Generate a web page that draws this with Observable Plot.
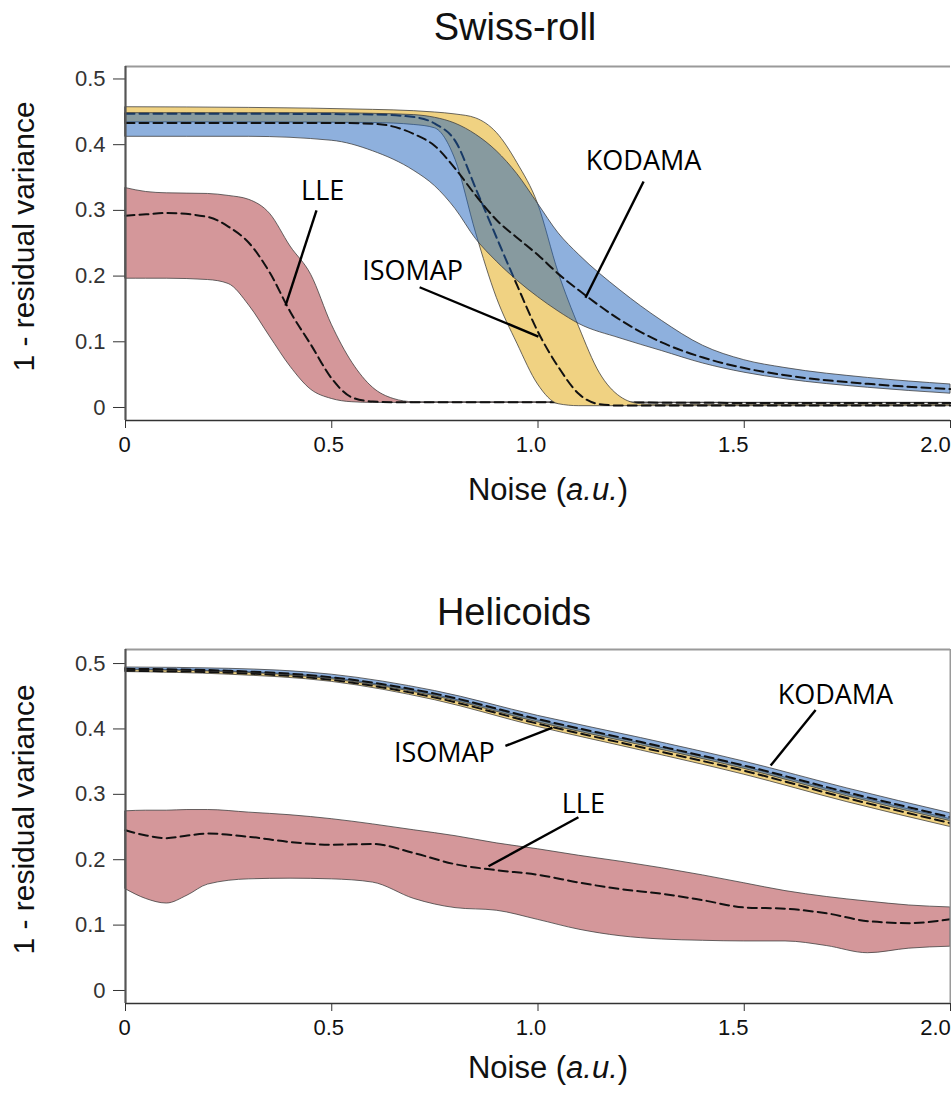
<!DOCTYPE html>
<html><head><meta charset="utf-8">
<script src="https://cdn.jsdelivr.net/npm/d3@7"></script>
<script src="https://cdn.jsdelivr.net/npm/@observablehq/plot@0.6"></script>
<style>
body{margin:0;background:#fff;width:951px;height:1096px;position:relative;overflow:hidden;font-family:"Liberation Sans",Arial,sans-serif;color:#111;}
.abs{position:absolute;}
.title{font-size:38px;line-height:38px;white-space:nowrap;transform:translateX(-50%);}
.xlab{font-size:31px;line-height:31px;white-space:nowrap;transform:translateX(-50%);}
</style></head><body>
<div class="abs title" style="left:515px;top:8px">Swiss-roll</div>
<div id="p1" class="abs" style="left:0;top:46px"></div>
<div class="abs xlab" style="left:548px;top:474px">Noise (<i>a.u.</i>)</div>
<div class="abs title" style="left:514px;top:593px">Helicoids</div>
<div id="p2" class="abs" style="left:0;top:629px"></div>
<div class="abs xlab" style="left:548px;top:1052px">Noise (<i>a.u.</i>)</div>
<script>
// ---------- axes ----------
const xTicks = [0, 0.5, 1, 1.5, 2];
const xTickLabels = ["0", "0.5", "1.0", "1.5", "2.0"];
const yTicks = [0, 0.1, 0.2, 0.3, 0.4, 0.5];
const yTickLabels = ["0", "0.1", "0.2", "0.3", "0.4", "0.5"];
const xDomain = [0, 2];
const yLabel = "1 - residual variance";

// ---------- Swiss-roll ----------
const swLleX   = [0, 0.05, 0.1, 0.2, 0.25, 0.3, 0.35, 0.4, 0.45, 0.5, 0.55, 0.6, 0.65, 0.7, 1.0, 1.5, 2.0];
const swLleHi  = [0.334, 0.328, 0.326, 0.325, 0.322, 0.316, 0.295, 0.245, 0.202, 0.126, 0.068, 0.030, 0.013, 0.008, 0.008, 0.007, 0.007];
const swLleMid = [0.292, 0.294, 0.296, 0.290, 0.275, 0.250, 0.205, 0.145, 0.095, 0.044, 0.015, 0.009, 0.008, 0.008, 0.008, 0.007, 0.007];
const swLleLo  = [0.196, 0.196, 0.196, 0.194, 0.188, 0.155, 0.108, 0.062, 0.027, 0.013, 0.008, 0.007, 0.007, 0.007, 0.007, 0.007, 0.007];

const swIsoX   = [0, 0.3, 0.6, 0.7, 0.75, 0.8, 0.85, 0.9, 0.95, 1.0, 1.05, 1.1, 1.15, 1.2, 1.25, 1.3, 1.6, 2.0];
const swIsoHi  = [0.457, 0.456, 0.453, 0.451, 0.449, 0.446, 0.440, 0.418, 0.372, 0.310, 0.205, 0.122, 0.052, 0.016, 0.005, 0.004, 0.004, 0.004];
const swIsoMid = [0.447, 0.447, 0.446, 0.442, 0.432, 0.405, 0.332, 0.258, 0.185, 0.115, 0.061, 0.020, 0.005, 0.003, 0.003, 0.003, 0.003, 0.003];
const swIsoLo  = [0.434, 0.434, 0.433, 0.430, 0.425, 0.377, 0.265, 0.167, 0.097, 0.035, 0.005, 0.002, 0.002, 0.002, 0.002, 0.002, 0.002, 0.002];

const swKodX   = [0, 0.3, 0.5, 0.6, 0.7, 0.75, 0.8, 0.85, 0.9, 0.95, 1.0, 1.05, 1.1, 1.2, 1.3, 1.4, 1.5, 1.6, 1.8, 2.0];
const swKodHi  = [0.448, 0.448, 0.448, 0.447, 0.445, 0.441, 0.432, 0.415, 0.390, 0.355, 0.310, 0.265, 0.232, 0.178, 0.132, 0.094, 0.072, 0.060, 0.045, 0.035];
const swKodMid = [0.433, 0.433, 0.433, 0.432, 0.416, 0.398, 0.363, 0.322, 0.285, 0.258, 0.232, 0.203, 0.178, 0.133, 0.099, 0.076, 0.060, 0.049, 0.036, 0.028];
const swKodLo  = [0.412, 0.412, 0.406, 0.390, 0.360, 0.337, 0.302, 0.256, 0.222, 0.193, 0.168, 0.146, 0.127, 0.105, 0.086, 0.067, 0.053, 0.043, 0.030, 0.021];

const swLabels = ["LLE", "ISOMAP", "KODAMA"];
const swLabelX = [0.478, 0.696, 1.256];
const swLabelY = [0.329, 0.207, 0.374];
const swLeadX1 = [0.463, 0.713, 1.256];
const swLeadY1 = [0.300, 0.183, 0.344];
const swLeadX2 = [0.388, 1.001, 1.115];
const swLeadY2 = [0.155, 0.108, 0.167];
const swYDomain = [-0.0198, 0.519];

// ---------- Helicoids ----------
const heLleX   = [0, 0.05, 0.1, 0.15, 0.2, 0.3, 0.4, 0.5, 0.6, 0.7, 0.8, 0.9, 1.0, 1.1, 1.2, 1.3, 1.4, 1.5, 1.6, 1.7, 1.8, 1.9, 2.0];
const heLleHi  = [0.274, 0.275, 0.275, 0.276, 0.276, 0.272, 0.268, 0.262, 0.254, 0.245, 0.236, 0.225, 0.216, 0.206, 0.197, 0.187, 0.176, 0.164, 0.152, 0.143, 0.136, 0.130, 0.127];
const heLleMid = [0.245, 0.237, 0.233, 0.237, 0.240, 0.235, 0.227, 0.223, 0.224, 0.210, 0.193, 0.184, 0.177, 0.165, 0.155, 0.148, 0.138, 0.127, 0.125, 0.118, 0.106, 0.103, 0.109];
const heLleLo  = [0.155, 0.140, 0.133, 0.145, 0.162, 0.170, 0.171, 0.170, 0.165, 0.140, 0.126, 0.122, 0.108, 0.093, 0.083, 0.078, 0.076, 0.075, 0.075, 0.068, 0.057, 0.064, 0.067];

const heX      = [0, 0.25, 0.5, 0.75, 1.0, 1.25, 1.5, 1.75, 2.0];
const heIsoHi  = [0.491, 0.488, 0.478, 0.452, 0.413, 0.378, 0.342, 0.300, 0.262];
const heIsoMid = [0.489, 0.486, 0.475, 0.448, 0.408, 0.372, 0.336, 0.294, 0.256];
const heIsoLo  = [0.487, 0.483, 0.472, 0.444, 0.403, 0.367, 0.330, 0.288, 0.250];
const heKodHi  = [0.494, 0.492, 0.483, 0.458, 0.420, 0.386, 0.350, 0.309, 0.271];
const heKodMid = [0.492, 0.489, 0.479, 0.454, 0.415, 0.380, 0.344, 0.303, 0.265];
const heKodLo  = [0.490, 0.487, 0.476, 0.450, 0.410, 0.375, 0.339, 0.297, 0.259];

const heLabels = ["KODAMA", "ISOMAP", "LLE"];
const heLabelX = [1.721, 0.773, 1.110];
const heLabelY = [0.452, 0.363, 0.285];
const heLeadX1 = [1.673, 0.921, 1.098];
const heLeadY1 = [0.429, 0.374, 0.265];
const heLeadX2 = [1.564, 1.035, 0.880];
const heLeadY2 = [0.344, 0.402, 0.190];
const heYDomain = [-0.0199, 0.5215];

// ---------- styles ----------
const RED = "#d4979a", YELLOW = "#f0d282", BLUE = "#1e62bc", EDGE = "#3a3a3a";
const curve = "monotone-x";
// small horizontal nudges of the x tick labels, as in the source figure (px)
const xLabelNudge = [-1, -3, -7, -11, -15];

const band = (xs, lo, mid, hi) => xs.map((x, i) => ({x, lo: lo[i], mid: mid[i], hi: hi[i]}));

function panel(o) {
  const lle = band(o.lleX, o.lleLo, o.lleMid, o.lleHi);
  const iso = band(o.isoX, o.isoLo, o.isoMid, o.isoHi);
  const kod = band(o.kodX, o.kodLo, o.kodMid, o.kodHi);
  const labels = o.labels.map((t, i) => ({t, x: o.labelX[i], y: o.labelY[i]}));
  const leaders = o.leadX1.map((x1, i) => ({x1, y1: o.leadY1[i], x2: o.leadX2[i], y2: o.leadY2[i]}));
  const dash = {stroke: "#111", strokeWidth: 2, strokeDasharray: "9,5", curve};
  const edge = {stroke: EDGE, strokeWidth: 0.9, strokeOpacity: 0.85, curve};
  const marks = [
    Plot.areaY(lle, {x: "x", y1: "lo", y2: "hi", fill: RED, ...edge}),
    Plot.lineY(lle, {x: "x", y: "mid", ...dash}),
    Plot.areaY(iso, {x: "x", y1: "lo", y2: "hi", fill: YELLOW, ...edge}),
    Plot.lineY(iso, {x: "x", y: "mid", ...dash}),
    Plot.areaY(kod, {x: "x", y1: "lo", y2: "hi", fill: BLUE, fillOpacity: 0.5, ...edge}),
    Plot.lineY(kod, {x: "x", y: "mid", ...dash}),
    Plot.ruleY([o.yDomain[1]], {stroke: "#9a9a9a", strokeWidth: 2}),
    Plot.ruleY([o.yDomain[0]], {stroke: "#333", strokeWidth: 1.6}),
    Plot.ruleX([xDomain[0]], {y1: o.yDomain[0], y2: o.yDomain[1], stroke: "#555", strokeWidth: 2.2}),
    ...xTicks.map((v, i) => Plot.text([xTickLabels[i]], {x: () => v, frameAnchor: "bottom", dy: 24, dx: xLabelNudge[i], fontSize: 22, fill: "#111", textAnchor: "middle", lineAnchor: "middle"})),
    Plot.link(leaders, {x1: "x1", y1: "y1", x2: "x2", y2: "y2", stroke: "#000", strokeWidth: 2.4}),
    Plot.text(labels, {x: "x", y: "y", text: "t", fontFamily: "Open Sans", fontSize: 27, fill: "#000", lineAnchor: "middle"}),
    Plot.text([yLabel], {frameAnchor: "left", rotate: -90, dx: -101, dy: -7, fontSize: 30, fill: "#111", textAnchor: "middle", lineAnchor: "middle"})
  ];
  if (o.rightBorder) marks.push(Plot.ruleX([xDomain[1]], {y1: o.yDomain[0], y2: o.yDomain[1], stroke: "#9a9a9a", strokeWidth: 2}));
  return Plot.plot({
    width: 951, height: 410,
    marginLeft: 125, marginRight: 1, marginTop: 20, marginBottom: 36,
    style: {fontFamily: "'Liberation Sans', Arial, sans-serif", fontSize: "22px", color: "#333", background: "transparent", overflow: "visible"},
    x: {domain: xDomain, ticks: xTicks, tickFormat: () => "", tickSize: 8, label: null},
    y: {domain: o.yDomain, ticks: yTicks, tickFormat: d => yTickLabels[yTicks.indexOf(d)], tickSize: 12, tickPadding: 8, label: null},
    marks
  });
}

document.getElementById("p1").appendChild(panel({
  lleX: swLleX, lleLo: swLleLo, lleMid: swLleMid, lleHi: swLleHi,
  isoX: swIsoX, isoLo: swIsoLo, isoMid: swIsoMid, isoHi: swIsoHi,
  kodX: swKodX, kodLo: swKodLo, kodMid: swKodMid, kodHi: swKodHi,
  labels: swLabels, labelX: swLabelX, labelY: swLabelY,
  leadX1: swLeadX1, leadY1: swLeadY1, leadX2: swLeadX2, leadY2: swLeadY2,
  yDomain: swYDomain, rightBorder: false
}));
document.getElementById("p2").appendChild(panel({
  lleX: heLleX, lleLo: heLleLo, lleMid: heLleMid, lleHi: heLleHi,
  isoX: heX, isoLo: heIsoLo, isoMid: heIsoMid, isoHi: heIsoHi,
  kodX: heX, kodLo: heKodLo, kodMid: heKodMid, kodHi: heKodHi,
  labels: heLabels, labelX: heLabelX, labelY: heLabelY,
  leadX1: heLeadX1, leadY1: heLeadY1, leadX2: heLeadX2, leadY2: heLeadY2,
  yDomain: heYDomain, rightBorder: true
}));
</script>
</body></html>
